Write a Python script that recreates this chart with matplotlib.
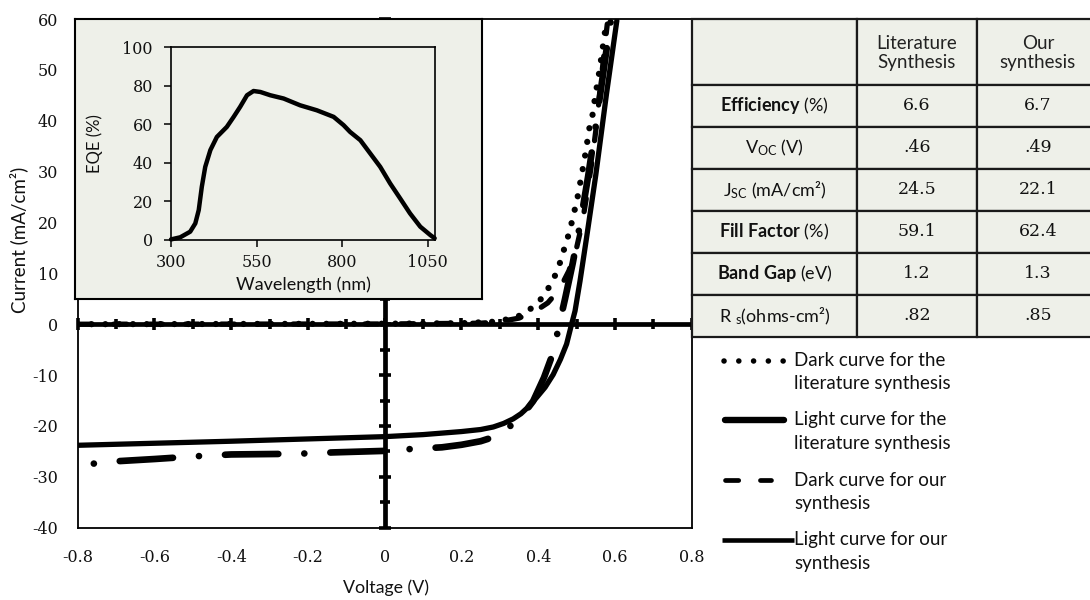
import numpy as np
import matplotlib
matplotlib.use('Agg')
import matplotlib.pyplot as plt
from matplotlib.patches import Rectangle

plt.rcParams['mathtext.fontset'] = 'custom'
plt.rcParams['mathtext.rm'] = 'Lato'
plt.rcParams['mathtext.bf'] = 'Lato:bold'
plt.rcParams['mathtext.it'] = 'Lato:italic'

SANS = 'Lato'
SERIF = 'DejaVu Serif'
BG = '#EEF0E9'

# ---------------- data ----------------
# Dark curve, literature synthesis (dotted)
dark_lit_v = [-0.8, -0.4, 0.0, 0.2, 0.287, 0.322, 0.357, 0.387, 0.413, 0.433, 0.450, 0.461,
              0.472, 0.483, 0.491, 0.500, 0.507, 0.513, 0.523, 0.533, 0.542, 0.548, 0.560, 0.575]
dark_lit_j = [0.0, 0.05, 0.1, 0.2, 0.5, 1.0, 1.8, 3.4, 5.4, 7.9, 10.5, 13.1,
              15.9, 18.5, 21.3, 23.9, 26.8, 29.2, 33.5, 38.4, 41.3, 44.5, 50.0, 58.0]

# Light curve, literature synthesis (dash-dot)
light_lit_v = [-0.758, -0.69, -0.6, -0.48, -0.4, -0.27, -0.2, -0.135, 0.0, 0.074, 0.149, 0.2,
               0.25, 0.283, 0.32, 0.36, 0.387, 0.415, 0.439, 0.455, 0.47, 0.49, 0.51, 0.53,
               0.55, 0.565, 0.58, 0.59]
light_lit_j = [-27.4, -26.9, -26.5, -25.9, -25.6, -25.5, -25.4, -25.2, -24.9, -24.5, -24.2, -23.7,
               -23.0, -22.2, -20.5, -17.8, -15.1, -10.5, -5.6, 0.0, 5.0, 12.0, 20.0, 29.0,
               39.0, 47.0, 55.0, 60.0]

# Dark curve, our synthesis (dashed)
dark_our_v = [-0.8, 0.0, 0.25, 0.3, 0.35, 0.397, 0.425, 0.455, 0.48, 0.50, 0.515, 0.528,
              0.54, 0.55, 0.56, 0.574, 0.58]
dark_our_j = [0.0, 0.05, 0.2, 0.5, 1.2, 2.8, 4.2, 6.8, 10.5, 15.0, 20.0, 26.0,
              32.0, 38.0, 45.0, 55.0, 59.0]

# Light curve, our synthesis (solid)
light_our_v = [-0.8, -0.4, 0.0, 0.1, 0.2, 0.25, 0.283, 0.31, 0.335, 0.355, 0.375, 0.396,
               0.418, 0.439, 0.458, 0.474, 0.487, 0.496, 0.509, 0.526, 0.550, 0.578, 0.605]
light_our_j = [-23.8, -23.0, -22.1, -21.7, -21.1, -20.7, -20.2, -19.5, -18.6, -17.6, -16.2, -14.4,
               -12.4, -9.9, -6.9, -3.9, 0.0, 2.6, 8.5, 17.0, 29.3, 45.3, 59.7]

# Inset: EQE spectrum
eqe_nm = [300, 327, 356, 371, 381, 390, 400, 415, 434, 463, 483, 502, 522, 541, 561, 590,
          629, 677, 726, 775, 804, 823, 853, 882, 911, 940, 969, 998, 1028, 1057, 1070]
eqe_pct = [0.3, 1.4, 4.3, 8.6, 15.5, 27.6, 37.9, 46.6, 53.4, 58.6, 63.8, 69.0, 75.0, 77.2,
           76.7, 75.0, 73.3, 69.8, 67.2, 63.8, 59.5, 56.0, 51.7, 44.8, 37.9, 29.3, 21.6,
           13.8, 6.9, 2.6, 0.9]

# Axis tick labels
x_ticks = [-0.8, -0.6, -0.4, -0.2, 0.0, 0.2, 0.4, 0.6, 0.8]
x_tick_labels = ['-0.8', '-0.6', '-0.4', '-0.2', '0', '0.2', '0.4', '0.6', '0.8']
y_ticks = [-40, -30, -20, -10, 0, 10, 20, 30, 40, 50, 60]
y_tick_labels = ['-40', '-30', '-20', '-10', '0', '10', '20', '30', '40', '50', '60']
eqe_x_ticks = [300, 550, 800, 1050]
eqe_y_ticks = [0, 20, 40, 60, 80, 100]

# Table
table_headers = ['Literature\nSynthesis', 'Our\nsynthesis']
table_rows = [r'$\mathbf{Efficiency}$ (%)',
              r'V$_{\mathrm{OC}}$ (V)',
              r'J$_{\mathrm{SC}}$ (mA/cm²)',
              r'$\mathbf{Fill\ Factor}$ (%)',
              r'$\mathbf{Band\ Gap}$ (eV)',
              r'R $_{\mathrm{s}}$(ohms-cm²)']
lit_values = ['6.6', '.46', '24.5', '59.1', '1.2', '.82']
our_values = ['6.7', '.49', '22.1', '62.4', '1.3', '.85']

legend_labels = [('Dark curve for the', 'literature synthesis'),
                 ('Light curve for the', 'literature synthesis'),
                 ('Dark curve for our', 'synthesis'),
                 ('Light curve for our', 'synthesis')]

# ---------------- figure ----------------
W, H = 1090, 600
fig = plt.figure(figsize=(W / 100, H / 100), dpi=100)
fig.patch.set_facecolor('white')


def rect(l, t, r, b):
    return [l / W, 1 - b / H, (r - l) / W, (b - t) / H]


# Main axes
ax = fig.add_axes(rect(77.7, 19, 691.7, 527.7))
ax.set_zorder(0)
ax.set_xlim(-0.8, 0.8)
ax.set_ylim(-40, 60)
for s in ax.spines.values():
    s.set_linewidth(1.3)
    s.set_color('black')
ax.set_xticks(x_ticks)
ax.set_xticklabels(x_tick_labels, fontfamily=SERIF, fontsize=11.5, color='#111111')
ax.set_yticks(y_ticks)
ax.set_yticklabels(y_tick_labels, fontfamily=SERIF, fontsize=11.5, color='#111111')
ax.tick_params(axis='x', length=0, pad=15)
ax.tick_params(axis='y', length=0, pad=14)

# Cross axes through the origin
ax.axhline(0, color='black', lw=3.4, zorder=3)
ax.axvline(0, color='black', lw=3.4, zorder=3)
xmaj = np.arange(-0.8, 0.81, 0.2)
xmin = np.arange(-0.7, 0.71, 0.2)
ax.plot(xmaj, np.zeros_like(xmaj), ls='none', marker='|', ms=9, mew=2.6, color='black',
        zorder=3, clip_on=False)
ax.plot(xmin, np.zeros_like(xmin), ls='none', marker='|', ms=6.5, mew=2.6, color='black',
        zorder=3, clip_on=False)
ymaj = np.arange(-40, 61, 10)
ymin = np.arange(-35, 56, 10)
ax.plot(np.zeros_like(ymaj), ymaj, ls='none', marker='_', ms=8, mew=2.6, color='black',
        zorder=3, clip_on=False)
ax.plot(np.zeros_like(ymin), ymin, ls='none', marker='_', ms=6.5, mew=2.6, color='black',
        zorder=3, clip_on=False)

# Curves
ax.plot(dark_lit_v, dark_lit_j, color='black', lw=4.5, ls=(0, (0.01, 2.2)),
        dash_capstyle='round', zorder=5)
ax.plot(dark_our_v, dark_our_j, color='black', lw=3.8, ls=(0, (2.5, 4.3)),
        dash_capstyle='round', zorder=5)
ax.plot(light_lit_v, light_lit_j, color='black', lw=4.8, ls=(0, (0.01, 3.9, 8.0, 3.9)),
        dash_capstyle='round', zorder=5)
ax.plot(light_our_v, light_our_j, color='black', lw=3.8, solid_capstyle='round',
        solid_joinstyle='round', zorder=5)

fig.text(19 / W, 1 - 240 / H, 'Current (mA/cm²)', rotation=90, ha='center', va='center',
         fontfamily=SANS, fontsize=13.5, color='#111111')
fig.text(386 / W, 1 - 588 / H, 'Voltage (V)', ha='center', va='center',
         fontfamily=SANS, fontsize=12.8, color='#111111')

# Inset background box
box = fig.add_axes(rect(75, 19, 482, 299))
box.set_zorder(1)
box.set_facecolor(BG)
box.set_xticks([])
box.set_yticks([])
for s in box.spines.values():
    s.set_linewidth(1.5)
    s.set_color('black')

# Inset axes
ins = fig.add_axes(rect(171, 47, 435, 240))
ins.set_zorder(2)
ins.set_facecolor('none')
ins.plot(eqe_nm, eqe_pct, color='black', lw=3.2, solid_joinstyle='round',
         solid_capstyle='round', clip_on=False)
ins.set_xlim(300, 1071)
ins.set_ylim(0, 100)
ins.set_xticks(eqe_x_ticks)
ins.set_xticklabels([str(t) for t in eqe_x_ticks], fontfamily=SERIF, fontsize=11.5,
                    color='#111111')
ins.set_yticks(eqe_y_ticks)
ins.set_yticklabels([str(t) for t in eqe_y_ticks], fontfamily=SERIF, fontsize=11.5,
                    color='#111111')
ins.tick_params(axis='x', direction='out', length=5, width=1.1, pad=5)
ins.tick_params(axis='y', direction='out', length=5, width=1.1, pad=8)
for s in ins.spines.values():
    s.set_linewidth(1.2)
    s.set_color('black')
ins.set_ylabel('EQE (%)', fontfamily=SANS, fontsize=12, color='#111111')
ins.yaxis.set_label_coords((103 - 171) / (435 - 171), 0.5)
ins.set_xlabel('Wavelength (nm)', fontfamily=SANS, fontsize=13, color='#111111', va='center')
ins.xaxis.set_label_coords(0.5, (240 - 285) / (240 - 47))

# Overlay (pixel coordinates) for table and legend
ov = fig.add_axes([0, 0, 1, 1])
ov.set_zorder(3)
ov.set_xlim(0, W)
ov.set_ylim(H, 0)
ov.axis('off')

col_edges = [692, 857, 977, 1100]
row_edges = [19, 85, 127, 169, 211, 253, 295, 337]
for ri in range(len(row_edges) - 1):
    for ci in range(len(col_edges) - 1):
        ov.add_patch(Rectangle((col_edges[ci], row_edges[ri]),
                               col_edges[ci + 1] - col_edges[ci],
                               row_edges[ri + 1] - row_edges[ri],
                               facecolor=BG, edgecolor='#1a1a1a', lw=1.6, clip_on=False))

cx = [(col_edges[i] + col_edges[i + 1]) / 2 for i in range(3)]
cx[2] = 1038
for ci, htxt in enumerate(table_headers):
    ov.text(cx[ci + 1], (row_edges[0] + row_edges[1]) / 2 + 1, htxt, ha='center', va='center',
            fontfamily=SANS, fontsize=13.5, linespacing=1.2, color='#222222')
for ri in range(len(table_rows)):
    yc = (row_edges[ri + 1] + row_edges[ri + 2]) / 2
    ov.text(cx[0], yc, table_rows[ri], ha='center', va='center', fontfamily=SANS,
            fontsize=13, color='#111111')
    ov.text(cx[1], yc, lit_values[ri], ha='center', va='center', fontfamily=SERIF,
            fontsize=12.5, color='#111111')
    ov.text(cx[2], yc, our_values[ri], ha='center', va='center', fontfamily=SERIF,
            fontsize=12.5, color='#111111')

# Legend (manual, keys aligned with first text line)
key_y = [361, 420, 480, 540]
ov.plot([723.5, 786], [key_y[0]] * 2, color='black', lw=4.0, ls=(0, (0.01, 2.65)),
        dash_capstyle='round')
ov.plot([725, 784], [key_y[1]] * 2, color='black', lw=4.6, solid_capstyle='round')
ov.plot([724.5, 770.5], [key_y[2]] * 2, color='black', lw=3.4, ls=(0, (2.8, 4.6)),
        dash_capstyle='round')
ov.plot([722, 794], [key_y[3]] * 2, color='black', lw=3.3, solid_capstyle='butt')
for k, (l1, l2) in enumerate(legend_labels):
    ov.text(794, key_y[k], l1, ha='left', va='center', fontfamily=SANS, fontsize=13.5,
            color='#111111')
    ov.text(794, key_y[k] + 23, l2, ha='left', va='center', fontfamily=SANS, fontsize=13.5,
            color='#111111')

fig.savefig('out.png', dpi=100)
